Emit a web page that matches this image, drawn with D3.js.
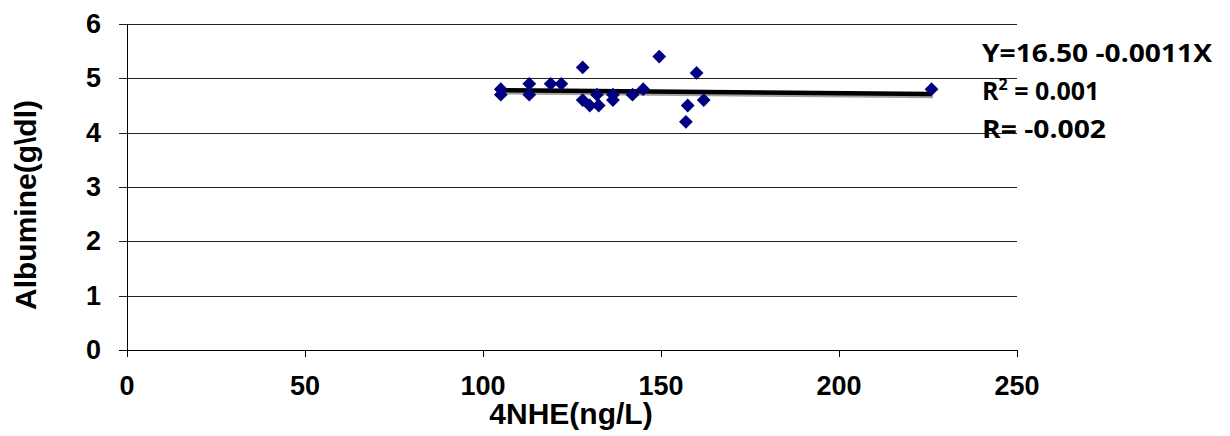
<!DOCTYPE html>
<html>
<head>
<meta charset="utf-8">
<script src="https://cdn.jsdelivr.net/npm/d3@7"></script>
<style>
  body { margin: 0; background: #fff; }
  .tick-label { font-family: "Liberation Sans", Arial, sans-serif; font-weight: bold; font-size: 27px; }
  .axis-title { font-family: "Liberation Sans", Arial, sans-serif; font-weight: bold; font-size: 30px; }
  .note { font-family: "Open Sans", sans-serif; font-weight: bold; font-size: 25px; }
</style>
</head>
<body>
<svg id="chart" width="1230" height="436"></svg>
<script>
// 4NHE (ng/L) values
var nheValues = [105, 105, 113, 113, 119, 122, 128, 128, 130, 132, 132.5, 136.5, 136.5, 142, 145, 149.5, 157.5, 157, 160, 162, 226];
// albumine (g/dl) values
var albValues = [4.8, 4.7, 4.9, 4.7, 4.9, 4.9, 5.2, 4.6, 4.5, 4.7, 4.5, 4.7, 4.6, 4.7, 4.8, 5.4, 4.5, 4.2, 5.1, 4.6, 4.8];
// trend line endpoints
var trendX = [105, 226];
var trendY = [4.78, 4.71];
var xTicks = [0, 50, 100, 150, 200, 250];
var yTicks = [0, 1, 2, 3, 4, 5, 6];
var noteLines = ["Y=16.50 -0.0011X", "R2 = 0.001", "R= -0.002"];

var svg = d3.select("#chart");

var x = d3.scaleLinear().domain([0, 250]).range([127, 1017]);
var y = d3.scaleLinear().domain([0, 6]).range([350, 24]);

// horizontal gridlines
svg.append("g")
  .selectAll("line")
  .data(yTicks)
  .enter().append("line")
  .attr("x1", 119)
  .attr("x2", x(250))
  .attr("y1", function(d) { return Math.round(y(d)) + 0.5; })
  .attr("y2", function(d) { return Math.round(y(d)) + 0.5; })
  .attr("stroke", function(d) { return d === 0 ? "#000" : "#222"; })
  .attr("stroke-width", 1);

// y axis line
svg.append("line")
  .attr("x1", 127.5).attr("x2", 127.5)
  .attr("y1", y(6)).attr("y2", y(0) + 7)
  .attr("stroke", "#000");

// x ticks
svg.append("g")
  .selectAll("line")
  .data(xTicks.slice(1))
  .enter().append("line")
  .attr("x1", function(d) { return Math.round(x(d)) + 0.5; })
  .attr("x2", function(d) { return Math.round(x(d)) + 0.5; })
  .attr("y1", y(0))
  .attr("y2", y(0) + 7)
  .attr("stroke", "#000");

// y tick labels
svg.append("g")
  .selectAll("text")
  .data(yTicks)
  .enter().append("text")
  .attr("class", "tick-label")
  .attr("x", 101)
  .attr("y", function(d) { return y(d) + 9; })
  .attr("text-anchor", "end")
  .text(function(d) { return d; });

// x tick labels
svg.append("g")
  .selectAll("text")
  .data(xTicks)
  .enter().append("text")
  .attr("class", "tick-label")
  .attr("x", function(d) { return x(d); })
  .attr("y", 395)
  .attr("text-anchor", "middle")
  .text(function(d) { return d; });

// axis titles
svg.append("text")
  .attr("class", "axis-title")
  .attr("x", 571)
  .attr("y", 424)
  .attr("text-anchor", "middle")
  .text("4NHE(ng/L)");

svg.append("text")
  .attr("class", "axis-title")
  .attr("transform", "translate(36,205) rotate(-90)")
  .attr("text-anchor", "middle")
  .text("Albumine(g\\dl)");

// trend line with shadow
var line = d3.line()
  .x(function(d) { return x(d[0]); })
  .y(function(d) { return y(d[1]); });
var trend = d3.zip(trendX, trendY);
svg.append("path")
  .attr("d", line(trend))
  .attr("transform", "translate(1.5,2)")
  .attr("fill", "none")
  .attr("stroke", "#a0a0a0")
  .attr("stroke-width", 4.5);
svg.append("path")
  .attr("d", line(trend))
  .attr("fill", "none")
  .attr("stroke", "#000")
  .attr("stroke-width", 4.5);

// points
var diamond = d3.symbol().type(d3.symbolSquare).size(95);
svg.append("g")
  .selectAll("path")
  .data(d3.zip(nheValues, albValues))
  .enter().append("path")
  .attr("d", diamond)
  .attr("transform", function(d) { return "translate(" + x(d[0]) + "," + y(d[1]) + ") rotate(45)"; })
  .attr("fill", "#000080");

// regression notes
var notes = svg.append("g");
notes.append("text").attr("class", "note").attr("x", 982).attr("y", 62)
  .attr("textLength", 230).attr("lengthAdjust", "spacingAndGlyphs").text(noteLines[0]);
var r2 = notes.append("text").attr("class", "note").attr("x", 982).attr("y", 100);
r2.append("tspan").text("R");
r2.append("tspan").attr("font-size", "16px").attr("dy", -10).text("2");
r2.append("tspan").attr("dy", 10).text(noteLines[1].slice(2));
notes.append("text").attr("class", "note").attr("x", 982).attr("y", 138)
  .attr("textLength", 124).attr("lengthAdjust", "spacingAndGlyphs").text(noteLines[2]);
</script>
</body>
</html>
